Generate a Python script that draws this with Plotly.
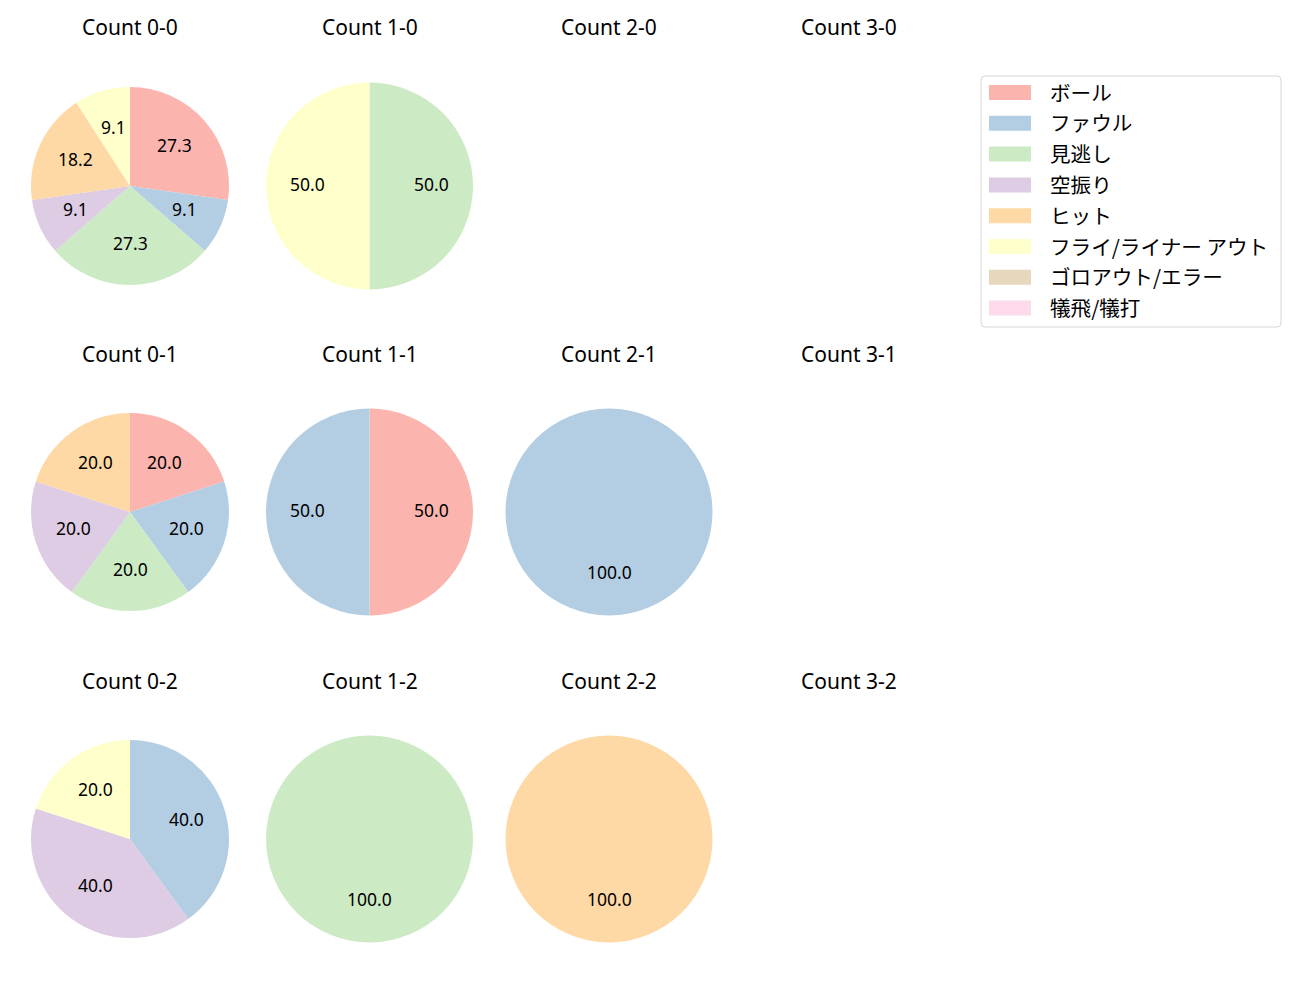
import math
import plotly.graph_objects as go

W, H = 1300, 1000

labels = ["ボール", "ファウル", "見逃し", "空振り", "ヒット",
          "フライ/ライナー アウト", "ゴロアウト/エラー", "犠飛/犠打"]
colors = ["#fbb4ae", "#b3cde3", "#ccebc5", "#decbe4", "#fed9a6",
          "#ffffcc", "#e5d8bd", "#fddaec"]

count_names = ["0-0", "1-0", "2-0", "3-0",
               "0-1", "1-1", "2-1", "3-1",
               "0-2", "1-2", "2-2", "3-2"]

v_0_0 = [3, 1, 3, 1, 2, 1, 0, 0]
v_1_0 = [0, 0, 1, 0, 0, 1, 0, 0]
v_2_0 = [0, 0, 0, 0, 0, 0, 0, 0]
v_3_0 = [0, 0, 0, 0, 0, 0, 0, 0]
v_0_1 = [1, 1, 1, 1, 1, 0, 0, 0]
v_1_1 = [1, 1, 0, 0, 0, 0, 0, 0]
v_2_1 = [0, 1, 0, 0, 0, 0, 0, 0]
v_3_1 = [0, 0, 0, 0, 0, 0, 0, 0]
v_0_2 = [0, 2, 0, 2, 0, 1, 0, 0]
v_1_2 = [0, 0, 1, 0, 0, 0, 0, 0]
v_2_2 = [0, 0, 0, 0, 1, 0, 0, 0]
v_3_2 = [0, 0, 0, 0, 0, 0, 0, 0]

all_values = [v_0_0, v_1_0, v_2_0, v_3_0,
              v_0_1, v_1_1, v_2_1, v_3_1,
              v_0_2, v_1_2, v_2_2, v_3_2]

FONT = "Noto Sans, Noto Sans CJK JP"
LFONT = "Noto Sans CJK JP"
col_cx = [130, 369.5, 609, 849]
row_cy = [186, 512, 839]
col_r = [99, 103.5, 103.5, 103.5]
title_y = [27, 354, 681]

fig = go.Figure()
annotations = []
shapes = []

for i, (name, vals) in enumerate(zip(count_names, all_values)):
    r_i, c_i = divmod(i, 4)
    cx, cy, rad = col_cx[c_i], row_cy[r_i], col_r[c_i]
    annotations.append(dict(
        text=f"Count {name}", x=cx / W, y=1 - title_y[r_i] / H,
        xref="paper", yref="paper", showarrow=False,
        xanchor="center", yanchor="middle",
        font=dict(family=FONT, size=21, color="#000000")))
    total = sum(vals)
    if total == 0:
        continue
    lab = [l for l, v in zip(labels, vals) if v > 0]
    val = [v for v in vals if v > 0]
    col = [c for c, v in zip(colors, vals) if v > 0]
    fig.add_trace(go.Pie(
        labels=lab, values=val, sort=False, direction="clockwise",
        rotation=0, marker=dict(colors=col, line=dict(width=0)),
        textinfo="none", hoverinfo="label+percent", showlegend=False,
        domain=dict(x=[(cx - rad) / W, (cx + rad) / W],
                    y=[1 - (cy + rad) / H, 1 - (cy - rad) / H])))
    cum = 0
    for v in val:
        theta = math.radians(90 - 360 * (cum + v / 2) / total)
        cum += v
        px = cx + 0.6 * rad * math.cos(theta)
        py = cy - 0.6 * rad * math.sin(theta) - 2
        annotations.append(dict(
            text=f"{100 * v / total:.1f}", x=px / W, y=1 - py / H,
            xref="paper", yref="paper", showarrow=False,
            xanchor="center", yanchor="middle",
            font=dict(family=FONT, size=17.5, color="#000000")))

# legend (manual, matplotlib-like)
lx0, lx1, ly0, ly1, rr = 981, 1281, 76, 327, 4
def px_(x):
    return x / W
def py_(y):
    return 1 - y / H
path = (f"M {px_(lx0 + rr)},{py_(ly0)} L {px_(lx1 - rr)},{py_(ly0)} "
        f"Q {px_(lx1)},{py_(ly0)} {px_(lx1)},{py_(ly0 + rr)} "
        f"L {px_(lx1)},{py_(ly1 - rr)} Q {px_(lx1)},{py_(ly1)} {px_(lx1 - rr)},{py_(ly1)} "
        f"L {px_(lx0 + rr)},{py_(ly1)} Q {px_(lx0)},{py_(ly1)} {px_(lx0)},{py_(ly1 - rr)} "
        f"L {px_(lx0)},{py_(ly0 + rr)} Q {px_(lx0)},{py_(ly0)} {px_(lx0 + rr)},{py_(ly0)} Z")
shapes.append(dict(type="path", path=path, xref="paper", yref="paper",
                   line=dict(color="#d6d6d6", width=1),
                   fillcolor="rgba(255,255,255,0.8)"))
for k, (lab, col) in enumerate(zip(labels, colors)):
    yc = 92.5 + 30.8 * k
    shapes.append(dict(type="rect", xref="paper", yref="paper",
                       x0=px_(989), x1=px_(1031), y0=py_(yc + 7.5), y1=py_(yc - 7.5),
                       fillcolor=col, line=dict(width=0)))
    annotations.append(dict(
        text=lab, x=px_(1048), y=py_(yc - 1), xref="paper", yref="paper",
        showarrow=False, xanchor="left", yanchor="middle",
        font=dict(family=LFONT, size=20.6, color="#000000")))

fig.update_layout(
    width=W, height=H, margin=dict(l=0, r=0, t=0, b=0),
    paper_bgcolor="white", plot_bgcolor="white",
    annotations=annotations, shapes=shapes, showlegend=False)

fig.write_html("out.html")
